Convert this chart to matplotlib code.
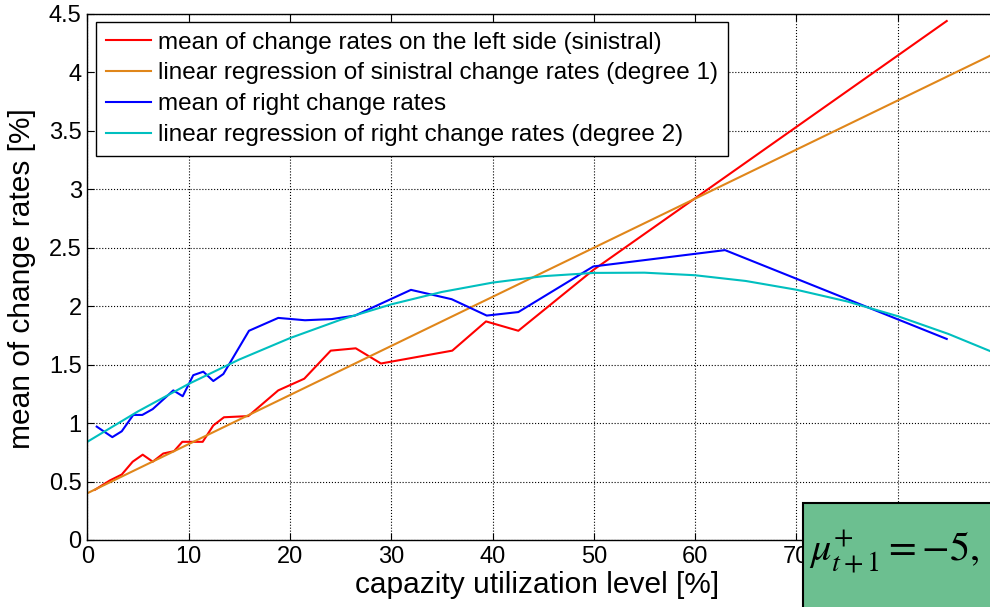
"""
Mean change rates vs. capacity utilization, left and right side, with fits.
"""

import numpy as np
import matplotlib
matplotlib.use("Agg")
import matplotlib.pyplot as plt
import matplotlib.patches as patches
import matplotlib.ticker as ticker

plt.rcParams['font.family'] = ['Liberation Sans', 'DejaVu Sans']
plt.rcParams['mathtext.fontset'] = 'stix'

#--------------------------------------------------------------
# data
#--------------------------------------------------------------
# mean of change rates, left side (sinistral)
left_x = [0.76, 2.24, 3.40, 4.48, 5.47, 6.46, 7.50, 8.56, 9.38, 10.46,
          11.39, 12.44, 13.49, 15.89, 18.85, 21.42, 24.03, 26.50, 28.99,
          36.03, 39.36, 42.55, 49.95, 84.84]
left_y = [0.43, 0.51, 0.56, 0.67, 0.73, 0.67, 0.74, 0.76, 0.84, 0.84,
          0.84, 0.98, 1.05, 1.06, 1.28, 1.38, 1.62, 1.64, 1.51,
          1.62, 1.87, 1.79, 2.31, 4.44]

# linear fit of the sinistral rates
left_fit_x = [0.0, 90.0]
left_fit_y = [0.40, 4.18]

# mean of change rates, right side
right_x = [0.93, 2.47, 3.40, 4.54, 5.43, 6.46, 8.49, 9.42, 10.46, 11.45,
           12.44, 13.43, 15.96, 18.85, 21.49, 24.13, 26.43, 31.95, 35.97,
           39.43, 42.55, 49.95, 62.95, 84.84]
right_y = [0.97, 0.88, 0.93, 1.07, 1.07, 1.12, 1.28, 1.23, 1.41, 1.44,
           1.36, 1.42, 1.79, 1.90, 1.88, 1.89, 1.92, 2.14, 2.06,
           1.92, 1.95, 2.34, 2.48, 1.72]

# degree 2 fit of the right side rates
right_fit_x = [0, 5, 10, 15, 20, 25, 30, 35, 40, 45, 50, 55, 60, 65, 70,
               75, 80, 85, 90]
right_fit_y = [0.840, 1.100, 1.335, 1.544, 1.727, 1.884, 2.016, 2.122,
               2.202, 2.257, 2.285, 2.287, 2.265, 2.216, 2.141, 2.041,
               1.915, 1.763, 1.585]

labels = ["mean of change rates on the left side (sinistral)",
          "linear regression of sinistral change rates (degree 1)",
          "mean of right change rates",
          "linear regression of right change rates (degree 2)"]

#--------------------------------------------------------------
# figure, axes placed in pixels (990 x 607)
#--------------------------------------------------------------
W, H = 990.0, 607.0
fig = plt.figure(figsize=(W/100, H/100), dpi=100)

x0_px = 87.3          # x=0
px_per_10 = 101.3
y0_px = 540.0         # y=0
ytop_px = 14.0        # y=4.5
ax_w = 10*px_per_10
ax_h = y0_px-ytop_px
ax1 = fig.add_axes([x0_px/W, (H-y0_px)/H, ax_w/W, ax_h/H])

ax1.plot(left_x, left_y, color=(1, 0, 0), lw=1.5, label=labels[0])
ax1.plot(left_fit_x, left_fit_y, color='#e0861a', lw=1.5, label=labels[1])
ax1.plot(right_x, right_y, color=(0, 0, 1), lw=1.5, label=labels[2])
ax1.plot(right_fit_x, right_fit_y, color='#00bfbf', lw=1.5, label=labels[3])

ax1.set_xlim(0, 100)
ax1.set_ylim(0, 4.5)
ax1.xaxis.set_major_locator(ticker.MultipleLocator(10))
ax1.yaxis.set_major_locator(ticker.MultipleLocator(0.5))
ax1.yaxis.set_major_formatter(ticker.FuncFormatter(lambda v, p: "%g" % v))
ax1.tick_params(direction='in', top=True, right=True, labelsize=17,
                length=5, width=0.8, pad=4)
ax1.grid(True, color='k', linestyle=':', lw=0.8)
for s in ax1.spines.values():
    s.set_linewidth(1.0)

ax1.set_xlabel("capazity utilization level [%]", fontsize=21.5)
ax1.set_ylabel("mean of change rates [%]", fontsize=21.5)
ax1.xaxis.set_label_coords((537-x0_px)/ax_w, (y0_px-571)/ax_h)
ax1.yaxis.set_label_coords((36-x0_px)/ax_w, 0.496)

leg = ax1.legend(loc='upper left',
                 bbox_to_anchor=((96-x0_px)/ax_w, 1-(22-ytop_px)/ax_h),
                 borderaxespad=0, fontsize=17.5, fancybox=False, framealpha=1,
                 edgecolor='k', handlelength=1.85, handletextpad=0.3,
                 labelspacing=0.36, borderpad=0.4)
leg.get_frame().set_linewidth(1.0)

#--------------------------------------------------------------
# green formula box on top of the lower right corner
#--------------------------------------------------------------
box = patches.Rectangle((802.7/W, -0.2), 0.5, 0.2+(H-502.7)/H,
                        transform=fig.transFigure, facecolor='#6cbf90',
                        edgecolor='k', lw=1.5, zorder=20)
fig.add_artist(box)
fig.text(809/W, (H-561)/H, r"$\mu_{t+1}^{+} = -5,$", fontsize=29,
         ha='left', va='baseline', zorder=21)
fig.text(935/W, (H-637)/H, r"$0.0$", fontsize=29,
         ha='left', va='baseline', zorder=21)

fig.savefig("out.png", dpi=100)
